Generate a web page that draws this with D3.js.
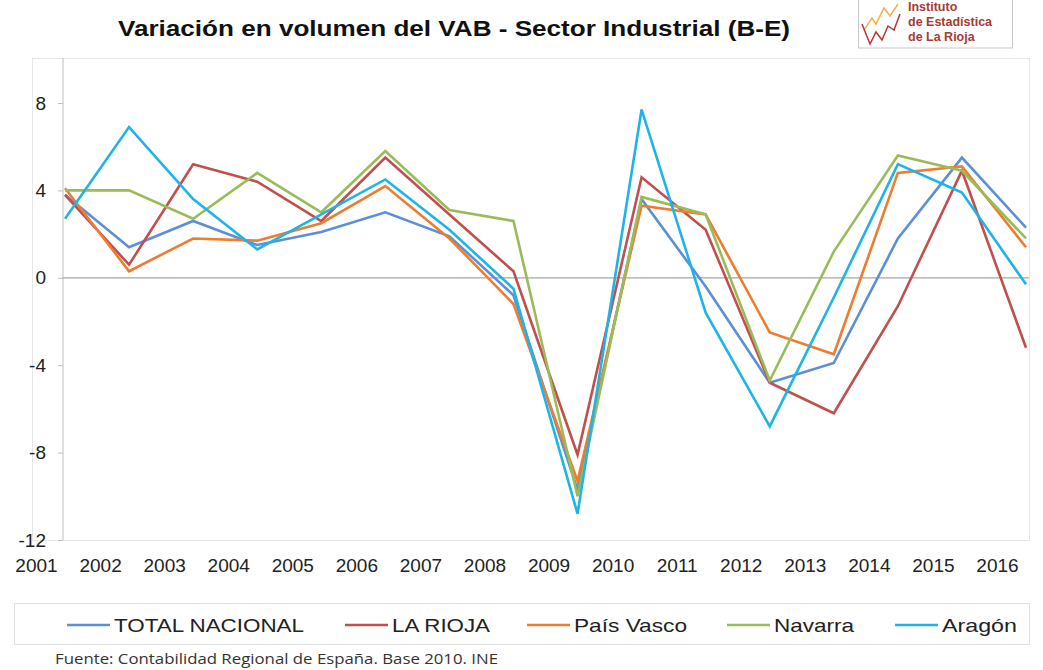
<!DOCTYPE html>
<html lang="es">
<head>
<meta charset="UTF-8">
<title>Variación en volumen del VAB - Sector Industrial (B-E)</title>
<script src="https://cdn.jsdelivr.net/npm/d3@7"></script>
<style>
  body { margin: 0; background: #fff; }
  svg { display: block; font-family: "Liberation Sans", Arial, sans-serif; }
</style>
</head>
<body>
<svg width="1043" height="670"></svg>
<script>
const years = ["2001","2002","2003","2004","2005","2006","2007","2008",
               "2009","2010","2011","2012","2013","2014","2015","2016"];
const yTicks = [8, 4, 0, -4, -8, -12];

const seriesNames = ["TOTAL NACIONAL", "LA RIOJA", "País Vasco", "Navarra", "Aragón"];
const totalNacional = [3.8, 1.4, 2.6, 1.5, 2.1, 3.0, 1.9, -0.8, -9.7, 3.6, -0.4, -4.8, -3.9, 1.8, 5.5, 2.3];
const laRioja       = [3.8, 0.6, 5.2, 4.4, 2.6, 5.5, 2.9, 0.3, -8.1, 4.6, 2.2, -4.8, -6.2, -1.3, 4.9, -3.2];
const paisVasco     = [4.1, 0.3, 1.8, 1.7, 2.5, 4.2, 1.8, -1.2, -9.3, 3.3, 2.9, -2.5, -3.5, 4.8, 5.1, 1.4];
const navarra       = [4.0, 4.0, 2.7, 4.8, 3.0, 5.8, 3.1, 2.6, -10.0, 3.7, 2.9, -4.7, 1.2, 5.6, 4.9, 1.8];
const aragon        = [2.7, 6.9, 3.6, 1.3, 2.9, 4.5, 2.2, -0.5, -10.8, 7.7, -1.6, -6.8, -0.9, 5.2, 3.9, -0.3];
const colors = ["#5b8fd6", "#c0504d", "#ed7d31", "#9bbb59", "#1eb4e8"];

const allSeries = [totalNacional, laRioja, paisVasco, navarra, aragon].map((vals, i) => ({
  name: seriesNames[i], color: colors[i], values: vals
}));

const svg = d3.select("svg");

// title
svg.append("text")
  .attr("x", 454).attr("y", 36)
  .attr("text-anchor", "middle")
  .attr("font-size", 22).attr("font-weight", "bold").attr("fill", "#111")
  .attr("textLength", 672).attr("lengthAdjust", "spacingAndGlyphs")
  .text("Variación en volumen del VAB - Sector Industrial (B-E)");

// logo
const logo = svg.append("g").attr("transform", "translate(858,0)");
logo.append("rect").attr("x", 0.5).attr("y", -2).attr("width", 154).attr("height", 50)
  .attr("fill", "#fff").attr("stroke", "#c8c8c8");
logo.append("path").attr("d", "M6,30 L14,18 L18,24 L26,8 L32,16 L40,4")
  .attr("fill", "none").attr("stroke", "#f0b04a").attr("stroke-width", 1.5);
logo.append("path").attr("d", "M4,24 L12,44 L18,32 L24,40 L30,26 L36,30 L42,14")
  .attr("fill", "none").attr("stroke", "#b8333a").attr("stroke-width", 1.5);
["Instituto", "de Estadística", "de La Rioja"].forEach((t, i) => {
  logo.append("text").attr("x", 50).attr("y", 11 + i * 15)
    .attr("font-size", 12.5).attr("font-weight", "bold").attr("fill", "#a83a35")
    .text(t);
});

// scales
const x = d3.scalePoint().domain(years).range([65, 1026]);
const y = d3.scaleLinear().domain([-12, 8]).range([540, 103]);

// plot frame
svg.append("rect").attr("x", 32.5).attr("y", 58.5).attr("width", 997).attr("height", 482)
  .attr("fill", "none").attr("stroke", "#e6e6e6");

// y axis (plain hyphen for negatives, like the original)
const yAxis = svg.append("g").attr("transform", "translate(63,0)")
  .call(d3.axisLeft(y).tickValues(yTicks).tickSize(5).tickPadding(12)
    .tickFormat(d => String(d)));
yAxis.select(".domain").attr("stroke", "#bfbfbf").attr("d", "M0,58V540");
yAxis.selectAll(".tick line").attr("stroke", "#bfbfbf");
yAxis.selectAll(".tick text").attr("font-size", 19).attr("fill", "#222")
  .attr("font-family", "Liberation Sans, Arial, sans-serif");

// zero line
svg.append("line")
  .attr("x1", 63).attr("x2", 1029)
  .attr("y1", y(0)).attr("y2", y(0))
  .attr("stroke", "#a6a6a6").attr("stroke-width", 1.3);

// x labels (shifted left of the points like in the original)
const xAxis = svg.append("g").attr("transform", "translate(-29,558)")
  .call(d3.axisBottom(x).tickSize(0).tickPadding(0));
xAxis.select(".domain").remove();
xAxis.selectAll(".tick text").attr("font-size", 19).attr("fill", "#222")
  .attr("font-family", "Liberation Sans Narrow, Arial Narrow, sans-serif")
  .attr("dy", "0.71em");

// lines
const line = d3.line()
  .x((d, i) => x(years[i]))
  .y(d => y(d));

svg.append("g").selectAll("path")
  .data(allSeries)
  .join("path")
  .attr("fill", "none")
  .attr("stroke", d => d.color)
  .attr("stroke-width", 2.6)
  .attr("stroke-linejoin", "miter")
  .attr("d", d => line(d.values));

// legend
svg.append("rect").attr("x", 14.5).attr("y", 603.5).attr("width", 1015).attr("height", 41)
  .attr("fill", "none").attr("stroke", "#e0e0e0");
const legendX = [67, 345, 527, 727, 895];
const legendW = [190, 98, 113, 80, 75];
const legend = svg.append("g").selectAll("g")
  .data(allSeries)
  .join("g")
  .attr("transform", (d, i) => `translate(${legendX[i]},625)`);
legend.append("line").attr("x1", 0).attr("x2", 43)
  .attr("stroke", d => d.color).attr("stroke-width", 2.6);
legend.append("text").attr("x", 47).attr("y", 7)
  .attr("font-size", 19).attr("fill", "#222")
  .attr("font-family", "Liberation Sans Narrow, Arial Narrow, sans-serif")
  .attr("textLength", (d, i) => legendW[i]).attr("lengthAdjust", "spacingAndGlyphs")
  .text(d => d.name);

// source
svg.append("text").attr("x", 55).attr("y", 664)
  .attr("font-size", 15).attr("fill", "#333")
  .attr("font-family", "Open Sans, sans-serif")
  .attr("textLength", 443).attr("lengthAdjust", "spacingAndGlyphs")
  .text("Fuente: Contabilidad Regional de España. Base 2010. INE");
</script>
</body>
</html>
